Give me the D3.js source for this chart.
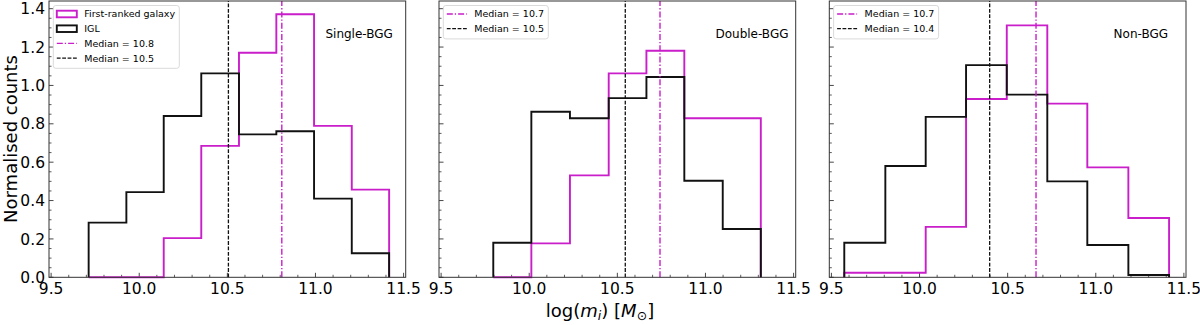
<!DOCTYPE html>
<html><head><meta charset="utf-8">
<script src="https://cdn.jsdelivr.net/npm/d3@7"></script>
<style>
html,body{margin:0;padding:0;background:#fff;}
svg{display:block;font-family:"DejaVu Sans",sans-serif;}
</style></head>
<body><svg id="c" width="1200" height="325"></svg>
<script>
// ---------- data ----------
const panelNames = ["Single-BGG", "Double-BGG", "Non-BGG"];
const edgesSingle = [9.713, 9.927, 10.139, 10.352, 10.566, 10.778, 10.992, 11.206, 11.418];
const iglSingle   = [0.285, 0.444, 0.841, 1.063, 0.745, 0.761, 0.410, 0.125];
const frgSingle   = [0.0, 0.0, 0.204, 0.685, 1.170, 1.371, 0.789, 0.457];
const edgesDouble = [9.796, 10.012, 10.231, 10.451, 10.665, 10.880, 11.098, 11.314];
const iglDouble   = [0.180, 0.863, 0.829, 0.934, 1.044, 0.503, 0.252];
const frgDouble   = [0.0, 0.177, 0.531, 1.063, 1.181, 0.829, 0.829];
const edgesNon    = [9.573, 9.806, 10.035, 10.264, 10.495, 10.725, 10.952, 11.185, 11.416];
const iglNon      = [0.180, 0.580, 0.836, 1.106, 0.952, 0.500, 0.168, 0.012];
const frgNon      = [0.024, 0.024, 0.263, 0.929, 1.313, 0.905, 0.573, 0.309];
const frgMedians  = [10.809, 10.742, 10.661];
const iglMedians  = [10.506, 10.545, 10.398];
const frgMedianLabels = ["Median = 10.8", "Median = 10.7", "Median = 10.7"];
const iglMedianLabels = ["Median = 10.5", "Median = 10.5", "Median = 10.4"];
const histLabels = ["First-ranked galaxy", "IGL"];
const xTicks = [9.5, 10.0, 10.5, 11.0, 11.5];
const yTicks = [0.0, 0.2, 0.4, 0.6, 0.8, 1.0, 1.2, 1.4];
const xDomain = [9.488, 11.512];
const yDomain = [0, 1.44];

const edgesAll = [edgesSingle, edgesDouble, edgesNon];
const iglAll = [iglSingle, iglDouble, iglNon];
const frgAll = [frgSingle, frgDouble, frgNon];

// ---------- layout ----------
const MAG = "#c91ec9";
const BLK = "#111111";
const lefts = [49, 439, 829.3];
const W = 356.7, TOP = 1, BOT = 277.3;
const labelX = [0.775, 0.775, 0.797];

const svg = d3.select("#c");

function stepPoints(edges, h) {
  const pts = [[edges[0], 0]];
  h.forEach((v, i) => { pts.push([edges[i], v]); pts.push([edges[i + 1], v]); });
  pts.push([edges[edges.length - 1], 0]);
  return pts;
}

panelNames.forEach((name, p) => {
  const x = d3.scaleLinear().domain(xDomain).range([lefts[p], lefts[p] + W]);
  const y = d3.scaleLinear().domain(yDomain).range([BOT, TOP]);
  const g = svg.append("g");

  // minor ticks
  const xMinor = d3.range(95, 116).map(v => v / 10).filter(v => !xTicks.some(t => Math.abs(t - v) < 1e-6));
  const yMinor = d3.range(0, 29).map(v => v * 0.05).filter(v => !yTicks.some(t => Math.abs(t - v) < 1e-6));
  g.selectAll(".xm").data(xMinor).join("line")
    .attr("x1", d => x(d)).attr("x2", d => x(d)).attr("y1", BOT).attr("y2", BOT - 2.5)
    .attr("stroke", "#333").attr("stroke-width", 0.8);
  g.selectAll(".xM").data(xTicks).join("line")
    .attr("x1", d => x(d)).attr("x2", d => x(d)).attr("y1", BOT).attr("y2", BOT - 4.5)
    .attr("stroke", "#333").attr("stroke-width", 0.9);
  g.selectAll(".ym").data(yMinor).join("line")
    .attr("x1", lefts[p]).attr("x2", lefts[p] + 2.5).attr("y1", d => y(d)).attr("y2", d => y(d))
    .attr("stroke", "#333").attr("stroke-width", 0.8);
  g.selectAll(".yM").data(yTicks).join("line")
    .attr("x1", lefts[p]).attr("x2", lefts[p] + 4.5).attr("y1", d => y(d)).attr("y2", d => y(d))
    .attr("stroke", "#333").attr("stroke-width", 0.9);

  // tick labels
  g.selectAll(".xl").data(xTicks).join("text")
    .attr("x", d => x(d)).attr("y", 293.5).attr("text-anchor", "middle")
    .attr("font-size", 15.5).attr("fill", "#000").text(d => d.toFixed(1));
  if (p === 0) {
    g.selectAll(".yl").data(yTicks).join("text")
      .attr("x", lefts[p] - 4).attr("y", d => y(d) + 5.6).attr("text-anchor", "end")
      .attr("font-size", 15.5).attr("fill", "#000").text(d => d.toFixed(1));
  }

  // histograms
  const line = d3.line().x(d => x(d[0])).y(d => y(d[1]));
  g.append("path").attr("d", line(stepPoints(edgesAll[p], frgAll[p])))
    .attr("fill", "none").attr("stroke", MAG).attr("stroke-width", 1.9).attr("stroke-linejoin", "miter");
  g.append("path").attr("d", line(stepPoints(edgesAll[p], iglAll[p])))
    .attr("fill", "none").attr("stroke", BLK).attr("stroke-width", 1.9).attr("stroke-linejoin", "miter");

  // medians
  g.append("line").attr("x1", x(frgMedians[p])).attr("x2", x(frgMedians[p]))
    .attr("y1", y(yDomain[0])).attr("y2", y(yDomain[1]))
    .attr("stroke", MAG).attr("stroke-width", 1.4).attr("stroke-dasharray", "6,2,1.3,2");
  g.append("line").attr("x1", x(iglMedians[p])).attr("x2", x(iglMedians[p]))
    .attr("y1", y(yDomain[0])).attr("y2", y(yDomain[1]))
    .attr("stroke", BLK).attr("stroke-width", 1.3).attr("stroke-dasharray", "3.8,1.6");

  // frame
  g.append("rect").attr("x", lefts[p]).attr("y", TOP).attr("width", W).attr("height", BOT - TOP)
    .attr("fill", "none").attr("stroke", "#333").attr("stroke-width", 1);

  // panel name
  g.append("text").attr("x", lefts[p] + labelX[p] * W).attr("y", 38)
    .attr("font-size", 12).attr("fill", "#000").text(name);

  // legend
  const items = [];
  if (p === 0) {
    items.push({type: "patch", color: MAG, label: histLabels[0]});
    items.push({type: "patch", color: BLK, label: histLabels[1]});
  }
  items.push({type: "dashdot", color: MAG, label: frgMedianLabels[p]});
  items.push({type: "dash", color: BLK, label: iglMedianLabels[p]});
  const lx = lefts[p] + 4.3, ly = 5.5, rowH = 14.7;
  const lw = p === 0 ? 126 : 105;
  const lh = items.length * rowH + 4;
  g.append("rect").attr("x", lx).attr("y", ly).attr("width", lw).attr("height", lh)
    .attr("rx", 2.5).attr("fill", "#fff").attr("fill-opacity", 0.85)
    .attr("stroke", "#d6d6d6").attr("stroke-width", 0.9);
  items.forEach((it, i) => {
    const cy = ly + 8.5 + i * rowH;
    const hx0 = lx + 3.5, hx1 = lx + 23.5;
    if (it.type === "patch") {
      g.append("rect").attr("x", hx0).attr("y", cy - 3.3).attr("width", 20).attr("height", 6.6)
        .attr("fill", "none").attr("stroke", it.color).attr("stroke-width", 1.9);
    } else {
      g.append("line").attr("x1", hx0).attr("x2", hx1).attr("y1", cy).attr("y2", cy)
        .attr("stroke", it.color).attr("stroke-width", 1.3)
        .attr("stroke-dasharray", it.type === "dashdot" ? "6,2,1.3,2" : "3.8,1.6");
    }
    g.append("text").attr("x", lx + 31).attr("y", cy + 3.4)
      .attr("font-size", 9.5).attr("fill", "#000").text(it.label);
  });
});

// axis labels
svg.append("text").attr("transform", "translate(16.5,139) rotate(-90)")
  .attr("text-anchor", "middle").attr("font-size", 18).attr("fill", "#000").text("Normalised counts");
const xl = svg.append("text").attr("x", 600).attr("y", 317).attr("text-anchor", "middle")
  .attr("font-size", 18).attr("fill", "#000");
xl.append("tspan").text("log(");
xl.append("tspan").attr("font-style", "italic").text("m");
xl.append("tspan").attr("font-style", "italic").attr("font-size", 12.5).attr("dy", 3).text("i");
xl.append("tspan").attr("dy", -3).text(") [");
xl.append("tspan").attr("font-style", "italic").text("M");
xl.append("tspan").attr("font-size", 12.5).attr("dy", 3).text("⊙");
xl.append("tspan").attr("dy", -3).text("]");
</script></body></html>
